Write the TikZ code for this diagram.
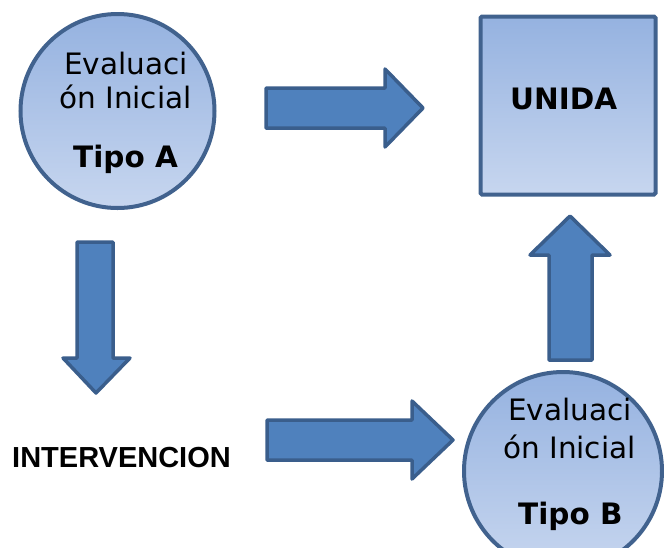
\documentclass[tikz,border=0pt]{standalone}
\usepackage{fontspec}
\setmainfont{DejaVu Sans}
\newfontfamily\arialfont{Liberation Sans}
\definecolor{shapetop}{HTML}{95B2E0}
\definecolor{shapebot}{HTML}{C7D6EF}
\definecolor{shapeedge}{HTML}{41628E}
\definecolor{arrfill}{HTML}{4F81BD}
\definecolor{arredge}{HTML}{3A5E8C}
\begin{document}
\begin{tikzpicture}[x=1pt,y=-1pt,
  bubble/.style={circle, draw=shapeedge, line width=4pt, top color=shapetop, bottom color=shapebot, inner sep=0pt},
  boxshape/.style={rectangle, draw=shapeedge, line width=4pt, top color=shapetop, bottom color=shapebot, inner sep=0pt, rounded corners=1.5pt},
  blockarrow/.style={fill=arrfill, draw=arredge, line width=3.5pt, line join=round},
  lbl/.style={anchor=base west, inner sep=0pt, font=\fontsize{29.5}{34}\selectfont},
  blbl/.style={anchor=base west, inner sep=0pt, font=\fontsize{29.5}{34}\selectfont\bfseries}]
\useasboundingbox (0,0) rectangle (664,547);
% shapes
\node[bubble, minimum size=194pt] (ca) at (117.5,111) {};
\node[boxshape, minimum width=175pt, minimum height=178pt] (sq) at (568,105.5) {};
\node[bubble, minimum size=198pt] (cb) at (563,471) {};
% block arrows
\draw[blockarrow] (266,88) -- (385,88) -- (385,69) -- (423,108) -- (385,147) -- (385,128) -- (266,128) -- cycle;
\draw[blockarrow] (77,242) -- (113,242) -- (113,358) -- (130,358) -- (96,393) -- (63,358) -- (77,358) -- cycle;
\draw[blockarrow] (267,420) -- (412,420) -- (412,401) -- (453,440) -- (412,479) -- (412,460) -- (267,460) -- cycle;
\draw[blockarrow] (549,360) -- (549,255) -- (530,255) -- (570,216) -- (610,255) -- (592,255) -- (592,360) -- cycle;
% texts
\node[lbl] (ta1) at (64,74) {Evaluaci};
\node[lbl] (ta2) at (59,108) {ón Inicial};
\node[blbl] (ta3) at (73,167) {Tipo A};
\node[blbl] (tu) at (510,109) {UNIDA};
\node[lbl] (tb1) at (508,420) {Evaluaci};
\node[lbl] (tb2) at (503,458) {ón Inicial};
\node[blbl] (tb3) at (518,524) {Tipo B};
\node[anchor=base west, inner sep=0pt, font=\arialfont\fontsize{29}{34}\selectfont\bfseries] (tint) at (12,467) {INTERVENCION};
\end{tikzpicture}
\end{document}
